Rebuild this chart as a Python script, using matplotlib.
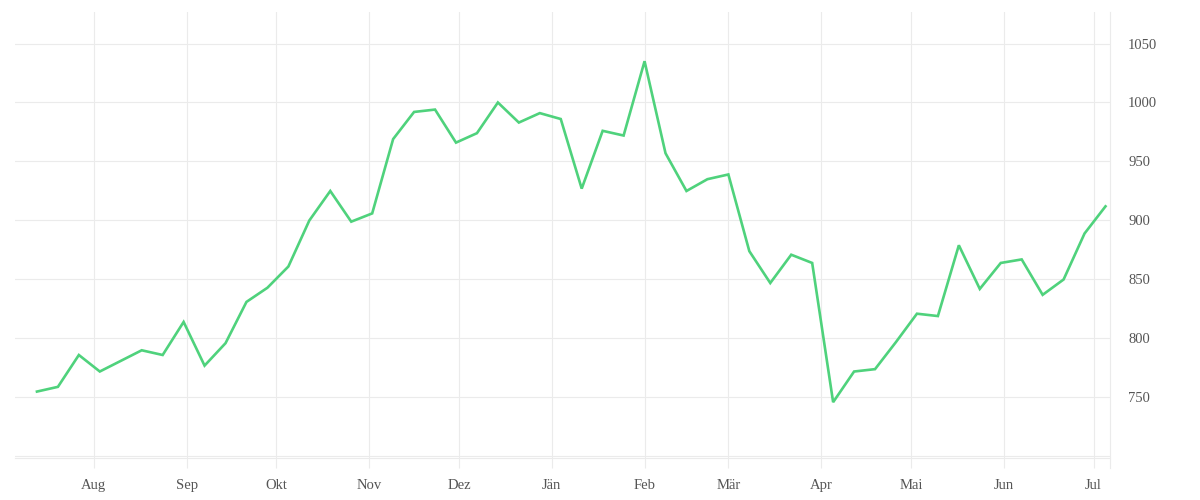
import matplotlib
matplotlib.use("Agg")
import matplotlib.pyplot as plt
import numpy as np
import pandas as pd

# Weekly values
start_date = "2020-07-13"
n_weeks = 52
values = [
    755, 759, 786, 772, 781, 790, 786, 814, 777, 796,
    831, 843, 861, 900, 925, 899, 906, 969, 992, 994,
    966, 974, 1000, 983, 991, 986, 927, 976, 972, 1035,
    957, 925, 935, 939, 874, 847, 871, 864, 746, 772,
    774, 797, 821, 819, 879, 842, 864, 867, 837, 850,
    889, 912,
]
month_labels = ["Aug", "Sep", "Okt", "Nov", "Dez", "Jän", "Feb", "Mär", "Apr", "Mai", "Jun", "Jul"]
month_starts = ["2020-08-01", "2020-09-01", "2020-10-01", "2020-11-01", "2020-12-01", "2021-01-01",
                "2021-02-01", "2021-03-01", "2021-04-01", "2021-05-01", "2021-06-01", "2021-07-01"]
y_ticks = [700, 750, 800, 850, 900, 950, 1000, 1050]
y_labels = ["", "750", "800", "850", "900", "950", "1000", "1050"]

dates = pd.date_range(start_date, periods=n_weeks, freq="7D")

plt.rcParams['font.family'] = ['Liberation Serif', 'DejaVu Serif']

fig = plt.figure(figsize=(12, 5), dpi=100)
ax = fig.add_axes([0.0125, 0.084, 0.9125, 0.892])

grid_c = "#ebebeb"
ax.plot(dates, values, color="#4fd27c", linewidth=1.9, solid_joinstyle="miter", zorder=3)

ax.set_xlim(pd.Timestamp("2020-07-05 16:00"), pd.Timestamp("2021-07-06 12:00"))
ax.set_ylim(698.7, 1076.7)

ax.set_xticks(pd.to_datetime(month_starts))
ax.set_xticklabels(month_labels)
ax.set_yticks(y_ticks)
ax.set_yticklabels(y_labels)

ax.yaxis.tick_right()
ax.grid(True, color=grid_c, linewidth=0.8, zorder=0)
ax.set_axisbelow(True)

for s in ["top", "left"]:
    ax.spines[s].set_visible(False)
ax.spines["bottom"].set_color(grid_c)
ax.spines["bottom"].set_linewidth(0.8)
ax.spines["right"].set_visible(False)
ax.axvline(ax.get_xlim()[1], ymin=-0.022, ymax=1, color=grid_c, linewidth=0.8, clip_on=False)

ax.tick_params(axis="x", length=7.5, width=0.8, color=grid_c, labelsize=10.5, labelcolor="#555555", pad=7.5)
ax.tick_params(axis="y", length=0, labelsize=10.5, labelcolor="#555555", pad=13)

fig.savefig("out.png", dpi=100, facecolor="white")
